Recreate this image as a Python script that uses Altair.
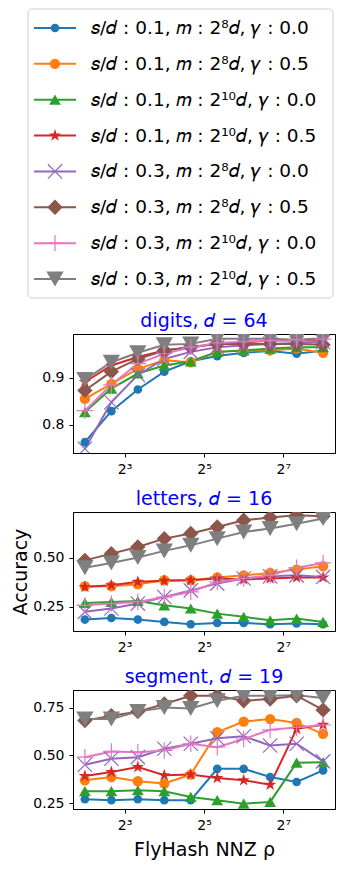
import altair as alt
import pandas as pd

FONT = "DejaVu Sans"

rho = [4, 6.35, 10.08, 16, 25.4, 40.32, 64, 101.6, 161.3, 256]

labels = [
    "𝑠/𝑑 : 0.1, 𝑚 : 2⁸𝑑, 𝛾 : 0.0",
    "𝑠/𝑑 : 0.1, 𝑚 : 2⁸𝑑, 𝛾 : 0.5",
    "𝑠/𝑑 : 0.1, 𝑚 : 2¹⁰𝑑, 𝛾 : 0.0",
    "𝑠/𝑑 : 0.1, 𝑚 : 2¹⁰𝑑, 𝛾 : 0.5",
    "𝑠/𝑑 : 0.3, 𝑚 : 2⁸𝑑, 𝛾 : 0.0",
    "𝑠/𝑑 : 0.3, 𝑚 : 2⁸𝑑, 𝛾 : 0.5",
    "𝑠/𝑑 : 0.3, 𝑚 : 2¹⁰𝑑, 𝛾 : 0.0",
    "𝑠/𝑑 : 0.3, 𝑚 : 2¹⁰𝑑, 𝛾 : 0.5",
]
ids = list(range(8))
colors = ["#1f77b4", "#ff7f0e", "#2ca02c", "#d62728",
          "#9467bd", "#8c564b", "#e377c2", "#7f7f7f"]
STAR = ("M0,-1L0.2245,-0.309L0.9511,-0.309L0.3633,0.118L0.5878,0.809L0,0.382"
        "L-0.5878,0.809L-0.3633,0.118L-0.9511,-0.309L-0.2245,-0.309Z")
shapes = ["circle", "circle", "triangle-up", STAR,
          "M-1,-1L1,1M-1,1L1,-1", "diamond", "M-1,0L1,0M0,-1L0,1", "triangle-down"]
sizes = [75, 300, 270, 380, 250, 480, 290, 320]

digits = [
    [0.763, 0.829, 0.875, 0.913, 0.935, 0.946, 0.953, 0.957, 0.951, 0.958],
    [0.855, 0.887, 0.919, 0.937, 0.933, 0.955, 0.958, 0.958, 0.962, 0.953],
    [0.827, 0.877, 0.909, 0.926, 0.935, 0.955, 0.958, 0.962, 0.965, 0.965],
    [0.891, 0.926, 0.944, 0.958, 0.965, 0.972, 0.975, 0.979, 0.979, 0.979],
    [0.749, 0.848, 0.906, 0.940, 0.955, 0.965, 0.969, 0.972, 0.974, 0.976],
    [0.873, 0.913, 0.940, 0.958, 0.965, 0.972, 0.972, 0.972, 0.972, 0.970],
    [0.830, 0.885, 0.930, 0.951, 0.965, 0.974, 0.977, 0.979, 0.981, 0.982],
    [0.896, 0.933, 0.953, 0.970, 0.972, 0.983, 0.983, 0.983, 0.981, 0.984],
]
letters = [
    [0.186, 0.194, 0.186, 0.174, 0.162, 0.169, 0.169, 0.162, 0.166, 0.162],
    [0.355, 0.355, 0.365, 0.385, 0.385, 0.399, 0.410, 0.422, 0.439, 0.456],
    [0.270, 0.275, 0.280, 0.258, 0.242, 0.216, 0.200, 0.182, 0.191, 0.174],
    [0.351, 0.360, 0.377, 0.382, 0.385, 0.394, 0.389, 0.394, 0.399, 0.399],
    [0.225, 0.242, 0.267, 0.300, 0.334, 0.368, 0.394, 0.405, 0.410, 0.402],
    [0.486, 0.520, 0.554, 0.596, 0.622, 0.655, 0.689, 0.703, 0.715, 0.710],
    [0.258, 0.267, 0.275, 0.300, 0.326, 0.377, 0.394, 0.410, 0.449, 0.473],
    [0.449, 0.473, 0.500, 0.534, 0.562, 0.596, 0.630, 0.647, 0.672, 0.698],
]
segment = [
    [0.271, 0.266, 0.271, 0.266, 0.266, 0.430, 0.430, 0.387, 0.361, 0.422],
    [0.370, 0.387, 0.365, 0.353, 0.400, 0.621, 0.677, 0.690, 0.670, 0.613],
    [0.313, 0.313, 0.318, 0.313, 0.283, 0.266, 0.248, 0.257, 0.462, 0.465],
    [0.392, 0.413, 0.439, 0.396, 0.400, 0.382, 0.370, 0.347, 0.639, 0.660],
    [0.451, 0.483, 0.491, 0.535, 0.561, 0.590, 0.600, 0.552, 0.561, 0.469],
    [0.682, 0.708, 0.729, 0.769, 0.812, 0.812, 0.786, 0.795, 0.812, 0.738],
    [0.491, 0.521, 0.517, 0.526, 0.561, 0.543, 0.586, 0.634, 0.646, 0.659],
    [0.690, 0.690, 0.729, 0.750, 0.745, 0.786, 0.812, 0.812, 0.815, 0.800],
]

W, H = 262, 119

color_enc = alt.Color("sid:O", scale=alt.Scale(domain=ids, range=colors), legend=None)
shape_enc = alt.Shape("sid:O", scale=alt.Scale(domain=ids, range=shapes), legend=None)
size_enc = alt.Size("sid:O", scale=alt.Scale(domain=ids, range=sizes), legend=None)
hollow_test = "indexof([4, 6], datum.sid) >= 0"
solid_test = "indexof([4, 6], datum.sid) < 0"


def panel(title, vals, domain, ticks, fmt, ytitle, xtitle):
    rows = []
    for i in ids:
        for x, v in zip(rho, vals[i]):
            rows.append({"rho": x, "acc": v, "sid": i})
    df = pd.DataFrame(rows)
    base = alt.Chart(df).encode(
        x=alt.X("rho:Q", scale=alt.Scale(type="log", base=2, domain=[3.25, 315.2], nice=False),
                axis=alt.Axis(values=[8, 32, 128],
                              labelExpr="'2' + (datum.value == 8 ? '³' : datum.value == 32 ? '⁵' : '⁷')",
                              title=xtitle, labelPadding=5, titlePadding=8)),
        y=alt.Y("acc:Q", scale=alt.Scale(domain=domain, nice=False, zero=False),
                axis=alt.Axis(values=ticks, format=fmt, title=ytitle, labelPadding=5, titlePadding=2)),
        color=color_enc,
    )
    lines = base.mark_line(strokeWidth=2, clip=True)
    solid = base.transform_filter(solid_test).mark_point(filled=True, opacity=1, clip=True).encode(
        shape=shape_enc, size=size_enc)
    holl = base.transform_filter(hollow_test).mark_point(filled=False, opacity=1, strokeWidth=1.2,
                                                         clip=True).encode(shape=shape_enc, size=size_enc)
    return alt.layer(lines, solid, holl).properties(
        width=W, height=H,
        title=alt.TitleParams(title, color="blue", fontSize=19, fontWeight="normal", font=FONT, offset=3),
    )


LH = 289
leg_df = pd.DataFrame({"label": labels, "sid": ids})
yrow = alt.Y("sid:O", scale=alt.Scale(type="point", range=[19, 270], padding=0), axis=None)
lbase = alt.Chart(leg_df).encode(y=yrow, color=color_enc)
box = alt.Chart(pd.DataFrame({"a": [0]})).mark_rect(
    fill="white", stroke="#cccccc", strokeWidth=1, cornerRadius=4
).encode(x=alt.value(-45), x2=alt.value(260), y=alt.value(0), y2=alt.value(LH))
lrule = lbase.mark_rule(strokeWidth=2).encode(x=alt.value(-39), x2=alt.value(3))
lsolid = lbase.transform_filter(solid_test).mark_point(filled=True, opacity=1).encode(
    x=alt.value(-18), shape=shape_enc, size=size_enc)
lholl = lbase.transform_filter(hollow_test).mark_point(filled=False, opacity=1, strokeWidth=1.2).encode(
    x=alt.value(-18), shape=shape_enc, size=size_enc)
ltext = alt.Chart(leg_df).mark_text(align="left", baseline="middle", fontSize=18.5, font=FONT,
                                    color="black").encode(x=alt.value(18), y=yrow, text="label:N")
legend = alt.layer(box, lrule, lsolid, lholl, ltext).properties(
    width=W, height=LH, view=alt.ViewBackground(strokeOpacity=0))

p1 = panel("digits, 𝑑 = 64", digits, [0.74, 0.993], [0.8, 0.9], ".1f", None, None)
p2 = panel("letters, 𝑑 = 16", letters, [0.128, 0.731], [0.25, 0.5], ".2f", "Accuracy", None)
p3 = panel("segment, 𝑑 = 19", segment, [0.22, 0.842], [0.25, 0.5, 0.75], ".2f", None, "FlyHash NNZ ρ")

chart = alt.vconcat(legend, p1, p2, p3, spacing=12).configure_axis(
    labelFont=FONT, labelFontSize=14, labelColor="black",
    titleFont=FONT, titleFontSize=19, titleFontWeight="normal", titleColor="black",
    domainColor="black", tickColor="black", tickSize=4, grid=False,
).configure_view(stroke="black", strokeWidth=1).properties(
    background="white", padding={"left": 3, "top": 0, "right": 0, "bottom": 0})

chart.save("out.html", embed_options={"renderer": "svg", "actions": False})
